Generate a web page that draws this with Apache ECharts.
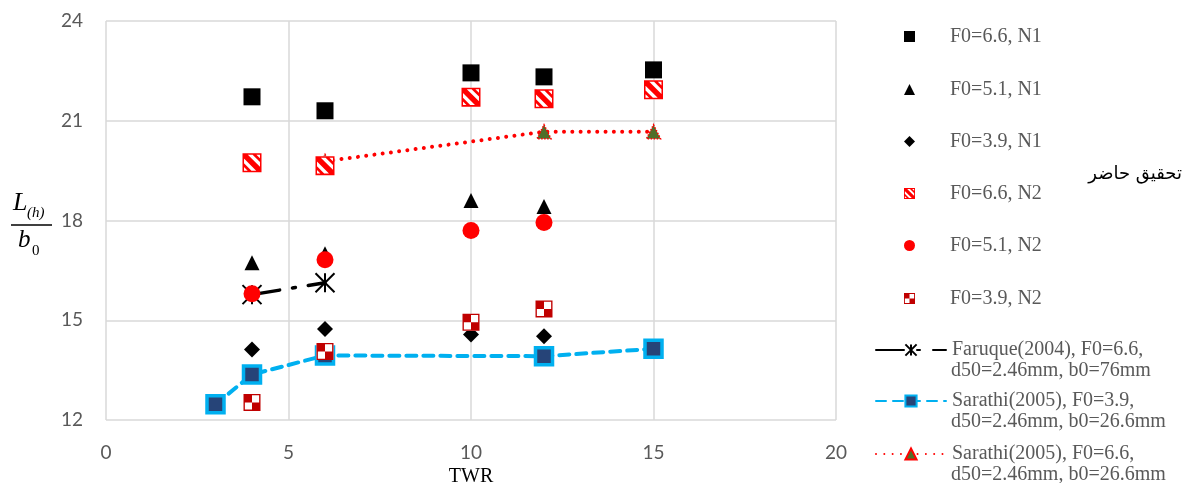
<!DOCTYPE html>
<html>
<head>
<meta charset="utf-8">
<script src="https://cdn.jsdelivr.net/npm/echarts@6/dist/echarts.min.js"></script>
<style>
html,body{margin:0;padding:0;background:#fff;}
#chart{width:1184px;height:483px;}
</style>
</head>
<body>
<div id="chart"></div>
<script>
// ---- data ----
var xTicks = [0, 5, 10, 15, 20];
var yTicks = [12, 15, 18, 21, 24];
var twrN1 = [4, 6, 10, 12, 15];
var f66N1 = [21.72, 21.3, 22.44, 22.32, 22.53];
var twrF51N1 = [4, 6, 10, 12];
var f51N1 = [16.73, 17.0, 18.6, 18.42];
var twrF39N1 = [4, 6, 10, 12];
var f39N1 = [14.12, 14.74, 14.57, 14.52];
var twrN2 = [4, 6, 10, 12, 15];
var f66N2 = [19.74, 19.65, 21.71, 21.66, 21.93];
var twrF51N2 = [4, 6, 10, 12];
var f51N2 = [15.8, 16.82, 17.7, 17.94];
var twrF39N2 = [4, 6, 10, 12];
var f39N2 = [12.53, 14.06, 14.94, 15.34];
var twrFaruque = [4, 6];
var faruque = [15.77, 16.13];
var twrSarathi39 = [3, 4, 6, 12, 15];
var sarathi39 = [12.47, 13.37, 13.94, 13.92, 14.14];
var twrSarathi66 = [6, 12, 15];
var sarathi66 = [19.78, 20.67, 20.67];

var names = [
  'F0=6.6, N1', 'F0=5.1, N1', 'F0=3.9, N1', 'F0=6.6, N2', 'F0=5.1, N2', 'F0=3.9, N2',
  'Faruque(2004), F0=6.6,\nd50=2.46mm, b0=76mm',
  'Sarathi(2005), F0=3.9,\nd50=2.46mm, b0=26.6mm',
  'Sarathi(2005), F0=6.6,\nd50=2.46mm, b0=26.6mm'
];
var yAxisLabel = ['L', '(h)', 'b', '0'];
var sideNote = 'تحقيق حاضر';

function pairs(xs, ys) { return xs.map(function (x, i) { return [x, ys[i]]; }); }

var HATCH = 'path://M0 0H20V1.6H0Z M0 18.4H20V20H0Z M0 0H1.6V20H0Z M18.4 0H20V20H18.4Z M0 0L4 0L20 16L20 20L16 20L0 4Z M9 0L13 0L20 7L20 11Z M0 9L11 20L7 20L0 13Z';
var CHECK = 'path://M0 0H20V1.6H0Z M0 18.4H20V20H0Z M0 0H1.6V20H0Z M18.4 0H20V20H18.4Z M1.6 1.6H10V10H1.6Z M10 10H18.4V18.4H10Z';
var STAR = 'path://M0 0L20 20M20 0L0 20M10 0L10 20';

var serif = 'Liberation Serif';
var chart = echarts.init(document.getElementById('chart'), null, {renderer: 'canvas'});

var legendCenters = [32, 85, 137, 189, 241, 294, 347, 398, 451];
var legends = names.map(function (n, i) {
  var isLine = i >= 6;
  var ih = isLine ? 14 : 11;
  var iw = isLine ? 70 : 11;
  return {
    data: [n],
    left: isLine ? 875 : 904,
    top: legendCenters[i] - ih / 2,
    padding: 0,
    itemWidth: iw,
    itemHeight: ih,
    itemGap: 0,
    selectedMode: false,
    formatter: function (name) { return name.split('\n')[0]; },
    textStyle: {fontFamily: serif, fontSize: 20, color: '#595959', padding: [0, 0, 0, isLine ? 1 : 30]}
  };
});

var secondLines = names.slice(6).map(function (n, i) {
  return {type: 'text', left: 951, top: legendCenters[6 + i] + 14,
    style: {text: n.split('\n')[1], font: '20px "Liberation Serif"', fill: '#595959'}};
});

var option = {
  animation: false,
  backgroundColor: '#fff',
  grid: {left: 106, right: 348, top: 21, bottom: 63, containLabel: false, outerBoundsMode: 'none'},
  legend: legends,
  xAxis: {
    type: 'value', min: 0, max: 20, interval: 5,
    name: 'TWR', nameLocation: 'middle', nameGap: 44,
    nameTextStyle: {fontFamily: serif, fontSize: 20, color: '#000'},
    axisLine: {show: false}, axisTick: {show: false},
    axisLabel: {fontFamily: 'Lato', fontSize: 19, color: '#595959', margin: 23,
      formatter: function (v) { return xTicks.indexOf(v) >= 0 ? String(v) : ''; }},
    splitLine: {show: true, lineStyle: {color: '#d9d9d9', width: 1.5}}
  },
  yAxis: {
    type: 'value', min: 12, max: 24, interval: 3,
    axisLine: {show: false}, axisTick: {show: false},
    axisLabel: {fontFamily: 'Lato', fontSize: 19, color: '#595959', margin: 23,
      formatter: function (v) { return yTicks.indexOf(v) >= 0 ? String(v) : ''; }},
    splitLine: {show: true, lineStyle: {color: '#d9d9d9', width: 1.5}}
  },
  graphic: [
    {type: 'text', left: 13, top: 190, style: {text: yAxisLabel[0], font: 'italic 26px "Liberation Serif"', fill: '#000'}},
    {type: 'text', left: 27, top: 206, style: {text: yAxisLabel[1], font: 'italic 15px "Liberation Serif"', fill: '#000'}},
    {type: 'line', shape: {x1: 11, y1: 225, x2: 52, y2: 225}, style: {stroke: '#000', lineWidth: 1.3}},
    {type: 'text', left: 18, top: 228, style: {text: yAxisLabel[2], font: 'italic 25px "Liberation Serif"', fill: '#000'}},
    {type: 'text', left: 32, top: 244, style: {text: yAxisLabel[3], font: '15px "Liberation Serif"', fill: '#000'}},
    {type: 'text', right: 2, top: 165, style: {text: sideNote, font: '18px "DejaVu Sans"', fill: '#000'}}
  ].concat(secondLines),
  series: [
    {
      name: names[6], type: 'line', z: 2, data: pairs(twrFaruque, faruque),
      symbol: STAR, symbolSize: 19,
      itemStyle: {color: 'rgba(0,0,0,0)', borderColor: '#000', borderWidth: 2},
      lineStyle: {color: '#000', width: 3.5, type: [28, 13, 3, 13], cap: 'round'}
    },
    {
      name: names[7], type: 'line', z: 2, data: pairs(twrSarathi39, sarathi39),
      symbol: 'rect', symbolSize: 17,
      itemStyle: {color: '#264478', borderColor: '#00b0f0', borderWidth: 3.5},
      lineStyle: {color: '#00b0f0', width: 4, type: [10, 7], cap: 'round'}
    },
    {
      name: names[8], type: 'line', z: 2, data: pairs(twrSarathi66, sarathi66),
      symbol: 'triangle', symbolSize: 14,
      itemStyle: {color: '#4f6f2a', borderColor: '#ff0000', borderWidth: 1.5, borderType: 'dotted'},
      lineStyle: {color: '#ff0000', width: 4, type: [0.01, 8.3], cap: 'round'}
    },
    {name: names[0], type: 'scatter', z: 4, data: pairs(twrN1, f66N1), symbol: 'rect', symbolSize: 17,
      itemStyle: {color: '#000', opacity: 1}},
    {name: names[1], type: 'scatter', z: 4, data: pairs(twrF51N1, f51N1), symbol: 'triangle', symbolSize: 15,
      itemStyle: {color: '#000', opacity: 1}},
    {name: names[2], type: 'scatter', z: 4, data: pairs(twrF39N1, f39N1), symbol: 'diamond', symbolSize: 16,
      itemStyle: {color: '#000', opacity: 1}},
    {name: 'u66', type: 'scatter', z: 5, data: pairs(twrN2, f66N2), symbol: 'rect', symbolSize: 19, silent: true,
      itemStyle: {color: '#fff', opacity: 1}},
    {name: names[3], type: 'scatter', z: 6, data: pairs(twrN2, f66N2), symbol: HATCH, symbolSize: 19,
      itemStyle: {color: '#ff0000', opacity: 1}},
    {name: names[4], type: 'scatter', z: 6, data: pairs(twrF51N2, f51N2), symbol: 'circle', symbolSize: 17,
      itemStyle: {color: '#ff0000', opacity: 1}},
    {name: 'u39', type: 'scatter', z: 5, data: pairs(twrF39N2, f39N2), symbol: 'rect', symbolSize: 17, silent: true,
      itemStyle: {color: '#fff', opacity: 1}},
    {name: names[5], type: 'scatter', z: 6, data: pairs(twrF39N2, f39N2), symbol: CHECK, symbolSize: 17,
      itemStyle: {color: '#c00000', opacity: 1}}
  ]
};
chart.setOption(option);
</script>
</body>
</html>
